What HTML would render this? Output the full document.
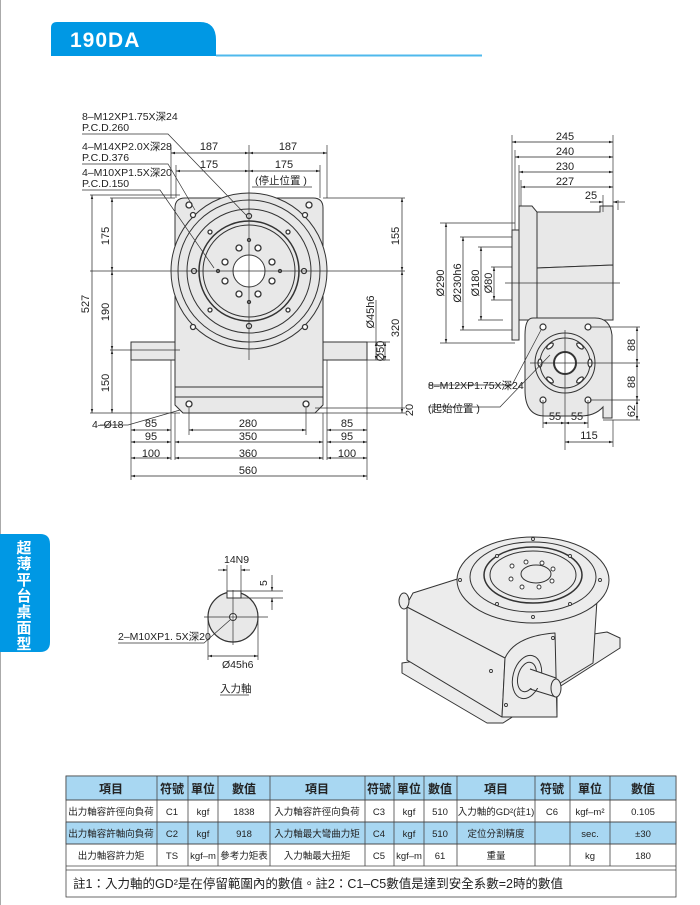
<!DOCTYPE html>
<html><head><meta charset="utf-8"><style>
html,body{margin:0;padding:0;background:#fff;}
svg{display:block;}
text{font-family:"Liberation Sans","Noto Sans CJK TC",sans-serif;fill:#222;}
</style></head><body>
<svg width="700" height="905" viewBox="0 0 700 905" xmlns="http://www.w3.org/2000/svg">
<defs>
<marker id="a" viewBox="0 0 10 10" refX="10" refY="5" markerWidth="6" markerHeight="6" orient="auto-start-reverse"><path d="M0,2 L10,5 L0,8 z" fill="#222"/></marker>
</defs>
<line x1="0.5" y1="0" x2="0.5" y2="905" stroke="#aaa" stroke-width="1"/>
<!-- header -->
<path d="M51,56 L51,28 Q51,22 57,22 L200,22 Q216,22 216,40 L216,56 Z" fill="#0098e4"/>
<line x1="216" y1="55.5" x2="482" y2="55.5" stroke="#4fb9ec" stroke-width="2"/>
<text x="70" y="47" font-size="21" font-weight="bold" style="fill:#fff;letter-spacing:1px">190DA</text>
<!-- left tab -->
<path d="M0,534 L40,534 Q50,534 50,544 L50,642 Q50,652 40,652 L0,652 Z" fill="#0098e4"/>
<g font-size="15" font-weight="bold" text-anchor="middle">
<text x="24" y="553" style="fill:#fff">超</text><text x="24" y="569" style="fill:#fff">薄</text><text x="24" y="585" style="fill:#fff">平</text><text x="24" y="601" style="fill:#fff">台</text><text x="24" y="617" style="fill:#fff">桌</text><text x="24" y="633" style="fill:#fff">面</text><text x="24" y="649" style="fill:#fff">型</text>
</g>

<!-- FRONT VIEW -->
<g stroke="#333" stroke-width="1" fill="#e8e8e8">
<rect x="131" y="342" width="44" height="18"/>
<rect x="323" y="342" width="44" height="18"/>
<path d="M175,350 L175,208 Q175,198 185,198 L313,198 Q323,198 323,208 L323,397 L175,397 Z"/>
<path d="M175,397 L323,397 L323,405 L315,413 L183,413 L175,405 Z"/>
<line x1="175" y1="387" x2="323" y2="387"/>
<circle cx="249" cy="271" r="78"/>
<circle cx="249" cy="271" r="71" fill="none"/>
<circle cx="249" cy="271" r="62" fill="none"/>
<circle cx="249" cy="271" r="50" fill="none" stroke-width="1.5"/>
<circle cx="249" cy="271" r="46" fill="none"/>
<circle cx="249" cy="271" r="16" fill="#fff"/>
</g>
<g fill="#fff" stroke="#333" stroke-width="1.3">
<circle cx="239" cy="248" r="3"/><circle cx="258" cy="248" r="3"/><circle cx="272" cy="262" r="3"/><circle cx="272" cy="281" r="3"/>
<circle cx="258" cy="294" r="3"/><circle cx="239" cy="294" r="3"/><circle cx="225" cy="281" r="3"/><circle cx="225" cy="262" r="3"/>
<circle cx="249" cy="240" r="1.5"/><circle cx="249" cy="302" r="1.5"/><circle cx="218" cy="271" r="1.5"/><circle cx="280" cy="271" r="1.5"/>
<circle cx="194" cy="271" r="2.5"/><circle cx="304" cy="271" r="2.5"/><circle cx="249" cy="216" r="2.5"/><circle cx="249" cy="326" r="2.5"/>
<circle cx="210" cy="232" r="2"/><circle cx="288" cy="232" r="2"/><circle cx="210" cy="310" r="2"/><circle cx="288" cy="310" r="2"/>
<circle cx="193" cy="215" r="2.5"/><circle cx="305" cy="215" r="2.5"/><circle cx="193" cy="327" r="2.5"/><circle cx="305" cy="327" r="2.5"/>
<circle cx="189" cy="205" r="3"/><circle cx="309" cy="205" r="3"/>
<circle cx="189" cy="404" r="3"/><circle cx="306" cy="404" r="3"/>
</g>
<g stroke="#333" stroke-width="0.7" fill="none">
<line x1="249" y1="145" x2="249" y2="360"/>
<line x1="90" y1="271" x2="405" y2="271"/>
<line x1="90" y1="195" x2="180" y2="195"/>
<line x1="110" y1="198" x2="175" y2="198"/>
<line x1="110" y1="350" x2="180" y2="350"/>
<line x1="90" y1="413" x2="180" y2="413"/>
<line x1="323" y1="198" x2="405" y2="198"/>
<line x1="310" y1="413" x2="405" y2="413"/>
<line x1="315" y1="408" x2="405" y2="408"/>
<line x1="367" y1="342" x2="390" y2="342"/><line x1="367" y1="360" x2="390" y2="360"/>
<line x1="171" y1="145" x2="171" y2="198"/><line x1="327" y1="145" x2="327" y2="198"/>
<line x1="176" y1="165" x2="176" y2="198"/><line x1="320" y1="165" x2="320" y2="198"/>
<line x1="131" y1="360" x2="131" y2="480"/><line x1="367" y1="360" x2="367" y2="480"/>
<line x1="171" y1="360" x2="171" y2="460"/><line x1="327" y1="360" x2="327" y2="460"/>
<line x1="175" y1="413" x2="175" y2="460"/><line x1="323" y1="413" x2="323" y2="460"/>
<line x1="189" y1="408" x2="189" y2="435"/><line x1="306" y1="408" x2="306" y2="435"/>
<line x1="376" y1="300" x2="376" y2="342"/>
</g>
<g stroke="#222" stroke-width="0.7" marker-start="url(#a)" marker-end="url(#a)">
<line x1="171" y1="153" x2="249" y2="153"/><line x1="249" y1="153" x2="327" y2="153"/>
<line x1="176" y1="171" x2="249" y2="171"/><line x1="249" y1="171" x2="320" y2="171"/>
<line x1="92" y1="195" x2="92" y2="413"/>
<line x1="112" y1="198" x2="112" y2="271"/><line x1="112" y1="271" x2="112" y2="350"/><line x1="112" y1="350" x2="112" y2="413"/>
<line x1="402" y1="198" x2="402" y2="271"/><line x1="402" y1="271" x2="402" y2="413"/>
<line x1="376" y1="342" x2="376" y2="360"/><line x1="385" y1="342" x2="385" y2="360"/>
<line x1="131" y1="430" x2="171" y2="430"/><line x1="189" y1="430" x2="306" y2="430"/><line x1="327" y1="430" x2="367" y2="430"/>
<line x1="131" y1="442" x2="171" y2="442"/><line x1="175" y1="442" x2="323" y2="442"/><line x1="327" y1="442" x2="367" y2="442"/>
<line x1="131" y1="458" x2="171" y2="458"/><line x1="175" y1="458" x2="323" y2="458"/><line x1="327" y1="458" x2="367" y2="458"/>
<line x1="131" y1="476" x2="367" y2="476"/>
</g>
<g stroke="#333" stroke-width="0.7" fill="none">
<polyline points="82,134 168,134 246,215"/>
<polyline points="82,164 168,164 195,210"/>
<polyline points="82,190 160,190 214,268"/>
<polyline points="100,425 128,425 180,410"/>
<polyline points="252,187 312,187"/>
</g>
<g font-size="10.5">
<text x="82" y="120">8–M12XP1.75X深24</text><text x="82" y="131">P.C.D.260</text>
<text x="82" y="150">4–M14XP2.0X深28</text><text x="82" y="161">P.C.D.376</text>
<text x="82" y="176">4–M10XP1.5X深20</text><text x="82" y="187">P.C.D.150</text>
<text x="255" y="184">(停止位置 )</text>
<text x="92" y="428">4–Ø18</text>
</g>
<g font-size="11" text-anchor="middle">
<text x="209" y="150">187</text><text x="288" y="150">187</text>
<text x="209" y="168">175</text><text x="284" y="168">175</text>
<text x="151" y="427">85</text><text x="248" y="427">280</text><text x="347" y="427">85</text>
<text x="151" y="440">95</text><text x="248" y="440">350</text><text x="347" y="440">95</text>
<text x="151" y="457">100</text><text x="248" y="457">360</text><text x="347" y="457">100</text>
<text x="248" y="474">560</text>
<text transform="translate(89,304) rotate(-90)">527</text>
<text transform="translate(109,236) rotate(-90)">175</text>
<text transform="translate(109,312) rotate(-90)">190</text>
<text transform="translate(109,383) rotate(-90)">150</text>
<text transform="translate(399,236) rotate(-90)">155</text>
<text transform="translate(399,328) rotate(-90)">320</text>
<text transform="translate(413,410) rotate(-90)">20</text>
<text transform="translate(374,312) rotate(-90)">Ø45h6</text>
<text transform="translate(384,351) rotate(-90)">Ø50</text>
</g>

<!-- SIDE VIEW -->
<g stroke="#333" stroke-width="1" fill="#e8e8e8">
<rect x="512" y="230" width="7" height="110"/>
<path d="M519,206 L532,206 L537,212 L537,320 L519,320 Z"/>
<path d="M537,212 L600,212 L600,206 L613,206 L613,265 L537,268 Z"/>
<path d="M537,268 L613,265 L613,320 L537,320 Z"/>
<path d="M533,318 L595,318 Q610,318 612,335 L612,392 L612,418 L603,418 L603,407 Q595,416 580,416 L545,416 Q525,416 525,390 L525,335 Q525,318 533,318 Z"/>
<circle cx="565" cy="363" r="30"/>
<circle cx="565" cy="363" r="25" fill="none"/>
<circle cx="565" cy="363" r="11" fill="#fff" stroke-width="2"/>
</g>
<g fill="#fff" stroke="#333" stroke-width="1.2">
<circle cx="543" cy="327" r="3"/><circle cx="588" cy="327" r="3"/><circle cx="543" cy="400" r="3"/><circle cx="588" cy="400" r="3"/>
<ellipse cx="550" cy="346" rx="4" ry="2" transform="rotate(-40 550 346)"/><ellipse cx="580" cy="346" rx="4" ry="2" transform="rotate(40 580 346)"/>
<ellipse cx="550" cy="380" rx="4" ry="2" transform="rotate(40 550 380)"/><ellipse cx="580" cy="380" rx="4" ry="2" transform="rotate(-40 580 380)"/>
<ellipse cx="540" cy="363" rx="2" ry="4"/><ellipse cx="590" cy="363" rx="2" ry="4"/>
</g>
<g stroke="#333" stroke-width="0.7" fill="none">
<line x1="512" y1="135" x2="512" y2="230"/><line x1="515" y1="150" x2="515" y2="230"/>
<line x1="519" y1="165" x2="519" y2="206"/><line x1="521" y1="180" x2="521" y2="206"/>
<line x1="613" y1="135" x2="613" y2="206"/><line x1="603" y1="195" x2="603" y2="212"/><line x1="618" y1="200" x2="618" y2="210"/>
<line x1="440" y1="223" x2="515" y2="223"/><line x1="440" y1="343" x2="515" y2="343"/>
<line x1="460" y1="237" x2="512" y2="237"/><line x1="460" y1="330" x2="512" y2="330"/>
<line x1="478" y1="247" x2="512" y2="247"/><line x1="478" y1="320" x2="503" y2="320"/>
<line x1="491" y1="267" x2="512" y2="267"/><line x1="491" y1="300" x2="512" y2="300"/>
<line x1="505" y1="283" x2="620" y2="283"/>
<line x1="565" y1="330" x2="565" y2="450"/><line x1="530" y1="363" x2="640" y2="363"/>
<line x1="590" y1="327" x2="640" y2="327"/><line x1="590" y1="400" x2="640" y2="400"/><line x1="603" y1="420" x2="640" y2="420"/>
<line x1="543" y1="400" x2="543" y2="428"/><line x1="588" y1="400" x2="588" y2="428"/><line x1="613" y1="420" x2="613" y2="447"/>
<polyline points="428,385 512,385 541,330"/>
<polyline points="428,407 500,407 550,355"/>
</g>
<g stroke="#222" stroke-width="0.7" marker-start="url(#a)" marker-end="url(#a)">
<line x1="512" y1="142" x2="613" y2="142"/><line x1="515" y1="157" x2="613" y2="157"/>
<line x1="519" y1="172" x2="613" y2="172"/><line x1="521" y1="187" x2="613" y2="187"/>
<line x1="446" y1="223" x2="446" y2="343"/><line x1="463" y1="237" x2="463" y2="330"/>
<line x1="481" y1="247" x2="481" y2="320"/><line x1="494" y1="267" x2="494" y2="300"/>
<line x1="637" y1="327" x2="637" y2="363"/><line x1="637" y1="363" x2="637" y2="400"/><line x1="637" y1="400" x2="637" y2="420"/>
<line x1="543" y1="423" x2="565" y2="423"/><line x1="565" y1="423" x2="588" y2="423"/>
<line x1="565" y1="442" x2="613" y2="442"/>
</g>
<g stroke="#222" stroke-width="0.7"><line x1="590" y1="202" x2="603" y2="202" marker-end="url(#a)"/><line x1="625" y1="202" x2="613" y2="202" marker-end="url(#a)"/></g>
<g font-size="11" text-anchor="middle">
<text x="565" y="140">245</text><text x="565" y="155">240</text><text x="565" y="170">230</text><text x="565" y="185">227</text><text x="591" y="199">25</text>
<text transform="translate(444,283) rotate(-90)">Ø290</text>
<text transform="translate(461,283) rotate(-90)">Ø230h6</text>
<text transform="translate(479,283) rotate(-90)">Ø180</text>
<text transform="translate(492,283) rotate(-90)">Ø80</text>
<text transform="translate(635,345) rotate(-90)">88</text>
<text transform="translate(635,382) rotate(-90)">88</text>
<text transform="translate(635,411) rotate(-90)">62</text>
<text x="555" y="420">55</text><text x="577" y="420">55</text><text x="589" y="439">115</text>
</g>
<g font-size="10.5"><text x="428" y="389">8–M12XP1.75X深24</text><text x="428" y="412">(起始位置 )</text></g>

<!-- SHAFT SECTION -->
<g stroke="#333" stroke-width="1">
<circle cx="233" cy="617" r="25" fill="#e8e8e8" stroke-width="1.2"/>
<rect x="227" y="591" width="14" height="7" fill="#fff"/>
<circle cx="233" cy="617" r="3.5" fill="#fff"/>
</g>
<g stroke="#333" stroke-width="0.7" fill="none">
<line x1="227" y1="565" x2="227" y2="591"/><line x1="241" y1="565" x2="241" y2="591"/>
<line x1="241" y1="591" x2="283" y2="591"/><line x1="241" y1="598" x2="283" y2="598"/>
<line x1="204" y1="617" x2="268" y2="617"/><line x1="233" y1="590" x2="233" y2="645"/>
<line x1="208" y1="617" x2="208" y2="660"/><line x1="258" y1="617" x2="258" y2="660"/>
<polyline points="118,643 204,643 230,620"/>
</g>
<g stroke="#222" stroke-width="0.7">
<line x1="218" y1="570" x2="227" y2="570" marker-end="url(#a)"/><line x1="250" y1="570" x2="241" y2="570" marker-end="url(#a)"/>
<line x1="272" y1="575" x2="272" y2="591" marker-end="url(#a)"/><line x1="272" y1="610" x2="272" y2="598" marker-end="url(#a)"/>
<line x1="208" y1="656" x2="258" y2="656" marker-start="url(#a)" marker-end="url(#a)"/>
</g>
<g font-size="10.5">
<text x="224" y="563">14N9</text>
<text transform="translate(267,586) rotate(-90)">5</text>
<text x="118" y="640">2–M10XP1. 5X深20</text>
<text x="222" y="668">Ø45h6</text>
<text x="220" y="692">入力軸</text>
</g>
<line x1="220" y1="695" x2="249" y2="695" stroke="#333" stroke-width="0.7"/>

<!-- ISOMETRIC -->
<g stroke="#333" stroke-width="1" fill="#ececec" stroke-linejoin="round">
<path d="M402,663 L402,673 L487,723 L503,723 L620,648 L620,638 L607,632 Z"/>
<path d="M407,604 L413,593 L470,575 L597,600 L593,663 L557,685 L557,717 L502,717 L407,660 Z"/>
<path d="M407,607 L505,658 L502,717 L407,660 Z"/>
<path d="M505,658 Q515,636 555,633 L557,717 L502,717 Z"/>
<ellipse cx="404" cy="601" rx="5" ry="8" fill="#ececec"/>
<ellipse cx="533" cy="580" rx="76" ry="43"/>
<ellipse cx="533" cy="577" rx="63" ry="35"/>
<ellipse cx="533" cy="575" rx="49" ry="28" stroke-width="1.5"/>
<ellipse cx="533" cy="575" rx="43" ry="24"/>
<ellipse cx="536" cy="574" rx="15" ry="9"/>
<ellipse cx="527" cy="677" rx="14" ry="22" transform="rotate(15 527 677)"/>
<ellipse cx="527" cy="677" rx="9" ry="15" transform="rotate(15 527 677)"/>
<path d="M529,669 L555,678 L555,688 L529,688 Z" stroke="none"/>
<line x1="530" y1="669" x2="556" y2="678"/><line x1="530" y1="689" x2="556" y2="697"/>
<ellipse cx="556" cy="688" rx="5" ry="9"/>
</g>
<g fill="#fff" stroke="#333" stroke-width="0.9">
<circle cx="512" cy="566" r="2"/><circle cx="526" cy="562" r="2"/><circle cx="542" cy="563" r="2"/><circle cx="553" cy="569" r="2"/>
<circle cx="552" cy="581" r="2"/><circle cx="539" cy="587" r="2"/><circle cx="522" cy="587" r="2"/><circle cx="511" cy="579" r="2"/>
<circle cx="460" cy="580" r="1.5"/><circle cx="600" cy="580" r="1.5"/><circle cx="533" cy="539" r="1.5"/><circle cx="533" cy="617" r="1.5"/>
<circle cx="497" cy="604" r="1.5"/><circle cx="570" cy="556" r="1.5"/><circle cx="497" cy="556" r="1.5"/><circle cx="570" cy="604" r="1.5"/>
<circle cx="491" cy="671" r="1.5"/><circle cx="506" cy="705" r="1.5"/><circle cx="553" cy="638" r="1.5"/>
</g>

<!-- TABLE -->
<g stroke="#444" stroke-width="0.8">
<rect x="66" y="776" width="610" height="121" fill="#fff"/>
<rect x="66" y="776" width="610" height="24" fill="#a8d7f2"/>
<rect x="66" y="822" width="610" height="22" fill="#a8d7f2"/>
<line x1="66" y1="800" x2="676" y2="800"/><line x1="66" y1="822" x2="676" y2="822"/>
<line x1="66" y1="844" x2="676" y2="844"/><line x1="66" y1="866" x2="676" y2="866"/><line x1="66" y1="870" x2="676" y2="870"/>
<line x1="157" y1="776" x2="157" y2="866"/><line x1="188" y1="776" x2="188" y2="866"/><line x1="218" y1="776" x2="218" y2="866"/>
<line x1="270" y1="776" x2="270" y2="866"/><line x1="365" y1="776" x2="365" y2="866"/><line x1="394" y1="776" x2="394" y2="866"/>
<line x1="424" y1="776" x2="424" y2="866"/><line x1="457" y1="776" x2="457" y2="866"/><line x1="535" y1="776" x2="535" y2="866"/>
<line x1="570" y1="776" x2="570" y2="866"/><line x1="610" y1="776" x2="610" y2="866"/>
</g>
<g font-size="12" font-weight="bold" text-anchor="middle">
<text x="111" y="793">項目</text><text x="172" y="793">符號</text><text x="203" y="793">單位</text><text x="244" y="793">數值</text>
<text x="317" y="793">項目</text><text x="379" y="793">符號</text><text x="409" y="793">單位</text><text x="440" y="793">數值</text>
<text x="496" y="793">項目</text><text x="552" y="793">符號</text><text x="590" y="793">單位</text><text x="643" y="793">數值</text>
</g>
<g font-size="9.5" text-anchor="middle">
<text x="111" y="815">出力軸容許徑向負荷</text><text x="172" y="815">C1</text><text x="203" y="815">kgf</text><text x="244" y="815">1838</text>
<text x="317" y="815">入力軸容許徑向負荷</text><text x="379" y="815">C3</text><text x="409" y="815">kgf</text><text x="440" y="815">510</text>
<text x="496" y="815">入力軸的GD²(註1)</text><text x="552" y="815">C6</text><text x="590" y="815">kgf–m²</text><text x="643" y="815">0.105</text>
<text x="111" y="837">出力軸容許軸向負荷</text><text x="172" y="837">C2</text><text x="203" y="837">kgf</text><text x="244" y="837">918</text>
<text x="317" y="837">入力軸最大彎曲力矩</text><text x="379" y="837">C4</text><text x="409" y="837">kgf</text><text x="440" y="837">510</text>
<text x="496" y="837">定位分割精度</text><text x="590" y="837">sec.</text><text x="643" y="837">±30</text>
<text x="111" y="859">出力軸容許力矩</text><text x="172" y="859">TS</text><text x="203" y="859">kgf–m</text><text x="244" y="859">參考力矩表</text>
<text x="317" y="859">入力軸最大扭矩</text><text x="379" y="859">C5</text><text x="409" y="859">kgf–m</text><text x="440" y="859">61</text>
<text x="496" y="859">重量</text><text x="590" y="859">kg</text><text x="643" y="859">180</text>
</g>
<text x="73" y="888" font-size="12.5">註1：入力軸的GD²是在停留範圍內的數值。註2：C1–C5數值是達到安全系數=2時的數值</text>
</svg>
</body></html>
